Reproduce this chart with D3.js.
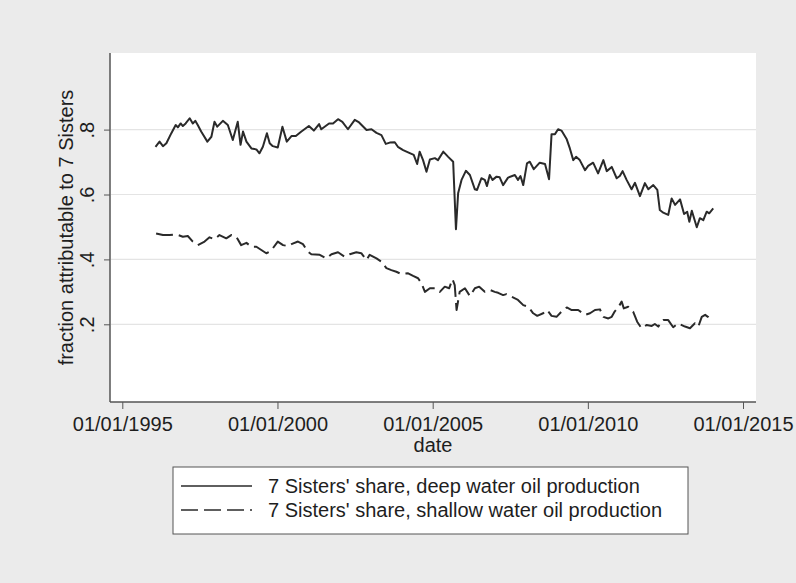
<!DOCTYPE html>
<html>
<head>
<meta charset="utf-8">
<script src="https://cdn.jsdelivr.net/npm/d3@7"></script>
<style>
  html, body { margin: 0; padding: 0; background: #ebebeb; }
  svg { display: block; }
  text { font-family: "Liberation Sans", Arial, Helvetica, sans-serif; fill: #1e1e1e; }
</style>
</head>
<body>
<svg id="chart" width="796" height="583"></svg>
<script>
// ---- data (decimal years, fraction) ----
const deepDates = [1996.07,1996.20,1996.31,1996.42,1996.58,1996.72,1996.79,1996.88,1996.95,1997.04,1997.17,1997.27,1997.35,1997.43,1997.54,1997.74,1997.87,1997.97,1998.06,1998.24,1998.40,1998.56,1998.72,1998.81,1998.89,1999.00,1999.16,1999.32,1999.42,1999.53,1999.66,1999.75,1999.85,2000.01,2000.16,2000.30,2000.45,2000.59,2000.77,2001.01,2001.17,2001.34,2001.41,2001.66,2001.79,2001.95,2002.09,2002.27,2002.49,2002.63,2002.87,2003.03,2003.19,2003.35,2003.49,2003.62,2003.78,2003.88,2004.05,2004.21,2004.39,2004.50,2004.58,2004.69,2004.80,2004.91,2005.07,2005.17,2005.34,2005.50,2005.66,2005.75,2005.82,2005.93,2006.07,2006.20,2006.36,2006.43,2006.57,2006.68,2006.75,2006.84,2006.93,2007.06,2007.16,2007.27,2007.43,2007.65,2007.75,2007.83,2007.92,2008.04,2008.13,2008.26,2008.45,2008.62,2008.75,2008.83,2008.94,2009.04,2009.15,2009.32,2009.42,2009.53,2009.62,2009.74,2009.91,2010.01,2010.17,2010.33,2010.50,2010.61,2010.77,2010.93,2011.03,2011.12,2011.25,2011.41,2011.52,2011.68,2011.84,2011.95,2012.11,2012.24,2012.32,2012.43,2012.59,2012.70,2012.81,2012.97,2013.10,2013.20,2013.27,2013.35,2013.51,2013.61,2013.72,2013.83,2013.91,2014.04];
const deepValues = [0.747,0.763,0.749,0.758,0.789,0.814,0.807,0.819,0.811,0.819,0.835,0.819,0.827,0.814,0.794,0.763,0.778,0.824,0.809,0.827,0.814,0.768,0.824,0.753,0.794,0.763,0.742,0.739,0.727,0.747,0.789,0.758,0.749,0.745,0.809,0.763,0.780,0.780,0.794,0.811,0.797,0.817,0.801,0.819,0.819,0.832,0.824,0.801,0.830,0.822,0.799,0.801,0.790,0.783,0.756,0.760,0.761,0.747,0.737,0.730,0.722,0.694,0.732,0.706,0.670,0.708,0.712,0.706,0.732,0.716,0.701,0.493,0.604,0.645,0.673,0.660,0.616,0.614,0.650,0.645,0.626,0.660,0.645,0.655,0.653,0.629,0.652,0.660,0.645,0.657,0.629,0.696,0.701,0.678,0.698,0.694,0.647,0.786,0.786,0.801,0.797,0.770,0.742,0.706,0.716,0.706,0.675,0.688,0.698,0.665,0.706,0.672,0.685,0.650,0.657,0.672,0.645,0.616,0.636,0.595,0.635,0.616,0.629,0.614,0.552,0.544,0.537,0.588,0.568,0.585,0.540,0.547,0.516,0.550,0.499,0.527,0.521,0.547,0.542,0.557];

const shallowDates = [1996.09,1996.31,1996.52,1996.74,1996.95,1997.11,1997.27,1997.43,1997.65,1997.81,1997.97,1998.13,1998.35,1998.51,1998.67,1998.83,1999.00,1999.16,1999.32,1999.48,1999.64,1999.75,1999.85,2000.01,2000.18,2000.34,2000.45,2000.66,2000.82,2000.98,2001.09,2001.36,2001.58,2001.74,2001.95,2002.17,2002.33,2002.54,2002.70,2002.87,2002.97,2003.19,2003.35,2003.51,2003.67,2003.83,2003.99,2004.21,2004.37,2004.53,2004.64,2004.75,2004.91,2005.07,2005.23,2005.39,2005.53,2005.64,2005.71,2005.77,2005.87,2006.04,2006.20,2006.36,2006.50,2006.68,2006.84,2007.00,2007.11,2007.27,2007.38,2007.54,2007.75,2007.92,2008.08,2008.24,2008.37,2008.56,2008.69,2008.83,2008.99,2009.15,2009.32,2009.48,2009.69,2009.91,2010.07,2010.23,2010.39,2010.50,2010.66,2010.77,2010.87,2010.98,2011.09,2011.16,2011.30,2011.46,2011.59,2011.73,2011.90,2012.06,2012.16,2012.27,2012.43,2012.59,2012.75,2012.91,2013.13,2013.29,2013.45,2013.56,2013.67,2013.78,2013.88,2013.99];
const shallowValues = [0.480,0.475,0.475,0.477,0.470,0.472,0.455,0.444,0.455,0.468,0.462,0.475,0.465,0.475,0.470,0.444,0.451,0.439,0.439,0.429,0.419,0.424,0.434,0.455,0.444,0.441,0.447,0.455,0.447,0.424,0.416,0.414,0.403,0.416,0.422,0.408,0.416,0.422,0.419,0.398,0.414,0.403,0.393,0.373,0.367,0.362,0.355,0.357,0.349,0.342,0.326,0.300,0.311,0.311,0.300,0.316,0.311,0.339,0.321,0.244,0.300,0.311,0.287,0.311,0.316,0.300,0.306,0.300,0.297,0.290,0.293,0.285,0.275,0.259,0.254,0.234,0.226,0.234,0.244,0.226,0.223,0.239,0.252,0.244,0.244,0.229,0.234,0.244,0.246,0.223,0.218,0.223,0.240,0.252,0.270,0.249,0.254,0.239,0.208,0.188,0.198,0.195,0.201,0.193,0.213,0.213,0.191,0.203,0.193,0.188,0.203,0.193,0.223,0.229,0.222,0.208];

const xTickLabels = ["01/01/1995","01/01/2000","01/01/2005","01/01/2010","01/01/2015"];
const yTickValues = [0.2, 0.4, 0.6, 0.8];
const seriesNames = ["7 Sisters' share, deep water oil production", "7 Sisters' share, shallow water oil production"];
const xTitle = "date";
const yTitle = "fraction attributable to 7 Sisters";

// ---- helpers ----
function decToDate(d) {
  const y = Math.floor(d);
  const start = Date.UTC(y, 0, 1);
  const end = Date.UTC(y + 1, 0, 1);
  return new Date(start + (d - y) * (end - start));
}
function parseLabel(s) {
  const [m, d, y] = s.split("/").map(Number);
  return new Date(Date.UTC(y, m - 1, d));
}

// ---- layout ----
const plot = { left: 110, right: 756, top: 53, bottom: 402 };
const svg = d3.select("#chart");

svg.append("rect").attr("width", 796).attr("height", 583).attr("fill", "#ebebeb");

const xTicks = xTickLabels.map(parseLabel);
const x = d3.scaleUtc().domain([xTicks[0], xTicks[xTicks.length - 1]]).range([122.3, 743]);
const y = d3.scaleLinear().domain([0, 1]).range([389.2, 64.7]);

// plot region
svg.append("rect")
  .attr("x", plot.left).attr("y", plot.top)
  .attr("width", plot.right - plot.left).attr("height", plot.bottom - plot.top)
  .attr("fill", "#ffffff");

// grid
svg.append("g").selectAll("line").data(yTickValues).join("line")
  .attr("x1", plot.left + 1).attr("x2", plot.right)
  .attr("y1", d => y(d)).attr("y2", d => y(d))
  .attr("stroke", "#e4e4e4").attr("stroke-width", 1.2);

// y axis
const yAxis = d3.axisLeft(y).tickValues(yTickValues).tickSize(6).tickSizeOuter(0)
  .tickFormat(d => d3.format(".1f")(d).replace(/^0\./, "."));
const gy = svg.append("g").attr("transform", `translate(${plot.left},0)`).call(yAxis);
gy.select(".domain").remove();
gy.selectAll(".tick line").attr("stroke", "#555").attr("stroke-width", 1);
gy.selectAll(".tick text")
  .attr("font-size", 20).attr("fill", "#1e1e1e")
  .attr("transform", "rotate(-90)")
  .attr("x", 0).attr("y", -16.5).attr("dy", null)
  .attr("text-anchor", "middle");
svg.append("line").attr("x1", plot.left).attr("x2", plot.left)
  .attr("y1", plot.top).attr("y2", plot.bottom).attr("stroke", "#555").attr("stroke-width", 1.5);

// x axis
const xAxis = d3.axisBottom(x).tickValues(xTicks).tickSize(7).tickSizeOuter(0)
  .tickFormat((d, i) => xTickLabels[i]);
const gx = svg.append("g").attr("transform", `translate(0,${plot.bottom})`).call(xAxis);
gx.select(".domain").remove();
gx.selectAll(".tick line").attr("stroke", "#555").attr("stroke-width", 1);
gx.selectAll(".tick text").attr("font-size", 20).attr("fill", "#1e1e1e").attr("y", 29).attr("dy", null);
svg.append("line").attr("x1", plot.left).attr("x2", plot.right)
  .attr("y1", plot.bottom).attr("y2", plot.bottom).attr("stroke", "#555").attr("stroke-width", 1.5);

// titles
svg.append("text").attr("x", 433).attr("y", 452).attr("text-anchor", "middle")
  .attr("font-size", 20).text(xTitle);
svg.append("text").attr("transform", `translate(73,${(plot.top + plot.bottom) / 2}) rotate(-90)`)
  .attr("text-anchor", "middle").attr("font-size", 20).text(yTitle);

// lines
const line = d3.line().x(d => x(d[0])).y(d => y(d[1]));
const deep = deepDates.map((d, i) => [decToDate(d), deepValues[i]]);
const shallow = shallowDates.map((d, i) => [decToDate(d), shallowValues[i]]);
const styles = [
  { dash: null },
  { dash: "17,6" }
];
svg.append("path").datum(deep).attr("d", line).attr("fill", "none")
  .attr("stroke", "#2a2a2a").attr("stroke-width", 2).attr("stroke-linejoin", "round");
svg.append("path").datum(shallow).attr("d", line).attr("fill", "none")
  .attr("stroke", "#2a2a2a").attr("stroke-width", 2).attr("stroke-linejoin", "round")
  .attr("stroke-dasharray", styles[1].dash);

// legend
const lg = svg.append("g");
lg.append("rect").attr("x", 173).attr("y", 467).attr("width", 515).attr("height", 67)
  .attr("fill", "#ffffff").attr("stroke", "#555").attr("stroke-width", 1);
seriesNames.forEach((name, i) => {
  const cy = 486 + i * 24;
  lg.append("line").attr("x1", 181).attr("x2", 252).attr("y1", cy).attr("y2", cy)
    .attr("stroke", "#2a2a2a").attr("stroke-width", 1.7)
    .attr("stroke-dasharray", styles[i].dash);
  lg.append("text").attr("x", 268).attr("y", cy + 7).attr("font-size", 20).text(name);
});
</script>
</body>
</html>
